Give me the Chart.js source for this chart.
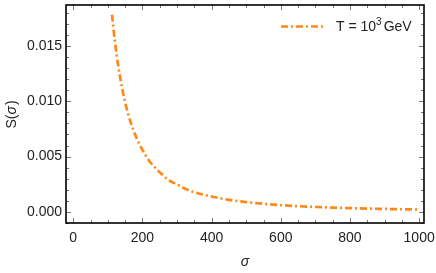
<!DOCTYPE html>
<html lang="en">
  <head>
    <meta charset="UTF-8" />
    <title>S(sigma)</title>
    <script src="https://cdn.jsdelivr.net/npm/chart.js@4"></script>
    <style>
      body { margin: 0; background: #fff; }
      .wrap { width: 436px; height: 273px; }
    </style>
  </head>
  <body>
    <div class="wrap"><canvas id="chart"></canvas></div>
    <script>
      // values
      const sigma = [112, 120, 130, 140, 150, 160, 175, 190, 200, 220, 240, 260, 280, 300, 330, 360, 400,
        450, 500, 550, 600, 650, 700, 750, 800, 850, 900, 950, 1000];
      const S = [0.0178, 0.0155, 0.0132, 0.0114, 0.0099, 0.0087, 0.0073, 0.0062, 0.0056, 0.0046, 0.0039,
        0.0033, 0.0028, 0.0025, 0.0020, 0.0017, 0.0014, 0.0011, 0.0009, 0.00074, 0.00062, 0.00053,
        0.00046, 0.00040, 0.00035, 0.00031, 0.00028, 0.00025, 0.00022];
      const xTicks = [0, 200, 400, 600, 800, 1000];
      const yTicks = [0, 0.005, 0.01, 0.015];
      const yTickLabels = ["0.000", "0.005", "0.010", "0.015"];

      const orange = "rgb(255,137,20)";
      const font = "'Liberation Sans', Arial, sans-serif";

      // frame, inward ticks, axis titles and legend
      const decor = {
        id: "decor",
        afterDraw(chart) {
          const ctx = chart.ctx;
          const a = chart.chartArea;
          const x = chart.scales.x, y = chart.scales.y;
          ctx.save();
          ctx.strokeStyle = "#777";
          ctx.lineWidth = 1;
          ctx.beginPath();
          for (let v = 0; v <= 1000; v += 50) {
            const px = Math.round(x.getPixelForValue(v)) + 0.5;
            const len = v % 200 === 0 ? 5 : 3;
            ctx.moveTo(px, a.bottom); ctx.lineTo(px, a.bottom - len);
            ctx.moveTo(px, a.top); ctx.lineTo(px, a.top + len);
          }
          for (let i = -1; i <= 18; i++) {
            const py = Math.round(y.getPixelForValue(i * 0.001)) + 0.5;
            const len = i % 5 === 0 ? 5 : 3;
            ctx.moveTo(a.left, py); ctx.lineTo(a.left + len, py);
            ctx.moveTo(a.right, py); ctx.lineTo(a.right - len, py);
          }
          ctx.stroke();

          ctx.strokeStyle = "#000";
          ctx.lineWidth = 1.6;
          ctx.strokeRect(a.left, a.top, a.right - a.left, a.bottom - a.top);

          ctx.fillStyle = "#222";
          ctx.font = "italic 14px " + font;
          ctx.textAlign = "center";
          ctx.textBaseline = "middle";
          ctx.fillText("\u03c3", (a.left + a.right) / 2, 262);

          ctx.save();
          ctx.translate(12, 115);
          ctx.rotate(-Math.PI / 2);
          ctx.font = "14px " + font;
          const w1 = ctx.measureText("S(").width;
          ctx.font = "italic 14px " + font;
          const w2 = ctx.measureText("\u03c3").width;
          ctx.font = "14px " + font;
          const w3 = ctx.measureText(")").width;
          let sx = -(w1 + w2 + w3) / 2;
          ctx.textAlign = "left";
          ctx.fillText("S(", sx, 0);
          ctx.font = "italic 14px " + font;
          ctx.fillText("\u03c3", sx + w1, 0);
          ctx.font = "14px " + font;
          ctx.fillText(")", sx + w1 + w2 + 1, 0);
          ctx.restore();

          // legend
          ctx.strokeStyle = orange;
          ctx.lineWidth = 2.7;
          ctx.setLineDash([7, 3, 2, 3]);
          ctx.beginPath();
          ctx.moveTo(281, 26.5); ctx.lineTo(326, 26.5);
          ctx.stroke();
          ctx.setLineDash([]);
          ctx.textAlign = "left";
          ctx.textBaseline = "alphabetic";
          ctx.font = "14px " + font;
          ctx.fillText("T = 10", 336, 31);
          let tx = 336 + ctx.measureText("T = 10").width;
          ctx.font = "10px " + font;
          ctx.fillText("3", tx, 25);
          tx += ctx.measureText("3").width + 2;
          ctx.font = "14px " + font;
          ctx.fillText("GeV", tx, 31);
          ctx.restore();
        }
      };

      new Chart(document.getElementById("chart"), {
        type: "scatter",
        data: {
          datasets: [{
            data: sigma.map((s, i) => ({ x: s, y: S[i] })),
            showLine: true,
            borderColor: orange,
            borderWidth: 2.7,
            borderDash: [7, 3, 2, 3],
            pointRadius: 0,
            cubicInterpolationMode: "monotone"
          }]
        },
        options: {
          responsive: true,
          maintainAspectRatio: false,
          animation: false,
          layout: { padding: { top: 5, right: 12, left: 0, bottom: 0 } },
          plugins: { legend: { display: false }, tooltip: { enabled: false } },
          scales: {
            x: {
              type: "linear",
              min: -21, max: 1014,
              grid: { display: false, drawTicks: false },
              border: { display: false },
              afterFit: (s) => { s.height = 50; s.paddingLeft = 0; s.paddingRight = 0; },
              afterBuildTicks: (s) => { s.ticks = xTicks.map(v => ({ value: v })); },
              ticks: {
                color: "#222", font: { family: font, size: 14 }, padding: 7, maxRotation: 0,
                callback: (v) => String(v)
              }
            },
            y: {
              type: "linear",
              min: -0.00099, max: 0.01868,
              grid: { display: false, drawTicks: false },
              border: { display: false },
              afterFit: (s) => { s.width = 66; s.paddingTop = 0; s.paddingBottom = 0; },
              afterBuildTicks: (s) => { s.ticks = yTicks.map(v => ({ value: v })); },
              ticks: {
                color: "#222", font: { family: font, size: 14 }, padding: 4,
                callback: (v) => yTickLabels[yTicks.indexOf(v)] ?? ""
              }
            }
          }
        },
        plugins: [decor]
      });
    </script>
  </body>
</html>
